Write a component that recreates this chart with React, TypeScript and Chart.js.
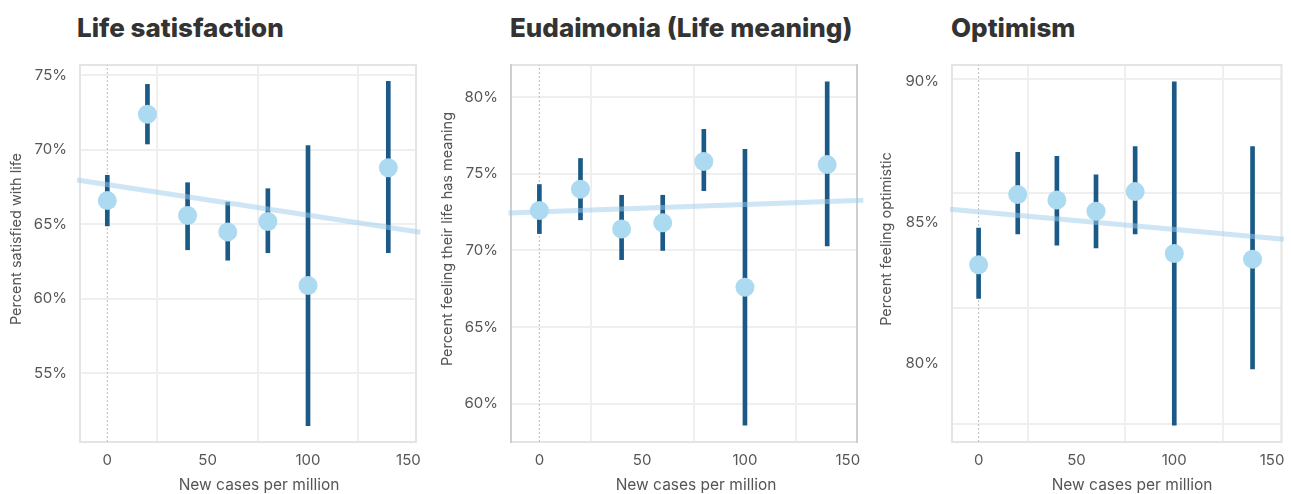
import React, { useEffect, useRef } from "react";
import { Chart, registerables } from "chart.js";

Chart.register(...registerables);

// ---------- data ----------
const xValues = [0, 20, 40, 60, 80, 100, 140];
const xTicks = [0, 50, 100, 150];

const lifeSatMean = [66.6, 72.4, 65.6, 64.5, 65.2, 60.9, 68.8];
const lifeSatLow = [64.9, 70.4, 63.3, 62.6, 63.1, 51.5, 63.1];
const lifeSatHigh = [68.3, 74.4, 67.8, 66.5, 67.4, 70.3, 74.6];
const lifeSatTrendX = [-15, 156];
const lifeSatTrendY = [67.98, 64.48];
const lifeSatTicks = [55, 60, 65, 70, 75];

const eudMean = [72.6, 74.0, 71.4, 71.8, 75.8, 67.6, 75.6];
const eudLow = [71.1, 72.0, 69.4, 70.0, 73.9, 58.6, 70.3];
const eudHigh = [74.3, 76.0, 73.6, 73.6, 77.9, 76.6, 81.0];
const eudTrendX = [-15, 157.6];
const eudTrendY = [72.45, 73.28];
const eudTicks = [60, 65, 70, 75, 80];

const optMean = [83.5, 86.0, 85.8, 85.4, 86.1, 83.9, 83.7];
const optLow = [82.3, 84.6, 84.2, 84.1, 84.6, 77.8, 79.8];
const optHigh = [84.8, 87.5, 87.35, 86.7, 87.7, 90.0, 87.7];
const optTrendX = [-14.6, 156];
const optTrendY = [85.47, 84.41];
const optTicks = [80, 85, 90];
const optGridLines = [77.85, 81.95, 86.05, 90.1];

// ---------- styles ----------
const FONT = "Inter";
const TEXT = "#555555";
const GRID = "#efefef";

type Spec = {
  title: string;
  yTitle: string;
  left: number;
  titleLeft: number;
  width: number;
  yAxisWidth: number;
  rightPad: number;
  xMin: number;
  xMax: number;
  yMin: number;
  yMax: number;
  mean: number[];
  low: number[];
  high: number[];
  trendX: number[];
  trendY: number[];
  yTicks: number[];
  gridLines?: number[];
  sideColor: string;
  yTitleX: number;
  xTitleX: number;
};

const specs: Spec[] = [
  {
    title: "Life satisfaction",
    yTitle: "Percent satisfied with life",
    left: 0, titleLeft: 77, width: 430, yAxisWidth: 80, rightPad: 14,
    xMin: -13.6, xMax: 153.8, yMin: 50.4, yMax: 75.7,
    mean: lifeSatMean, low: lifeSatLow, high: lifeSatHigh,
    trendX: lifeSatTrendX, trendY: lifeSatTrendY, yTicks: lifeSatTicks,
    sideColor: "#e4e4e4", yTitleX: 16, xTitleX: 259,
  },
  {
    title: "Eudaimonia (Life meaning)",
    yTitle: "Percent feeling their life has meaning",
    left: 430, titleLeft: 510, width: 440, yAxisWidth: 81, rightPad: 13,
    xMin: -13.8, xMax: 154.5, yMin: 57.5, yMax: 82.1,
    mean: eudMean, low: eudLow, high: eudHigh,
    trendX: eudTrendX, trendY: eudTrendY, yTicks: eudTicks,
    sideColor: "#cfcfcf", yTitleX: 447, xTitleX: 696,
  },
  {
    title: "Optimism",
    yTitle: "Percent feeling optimistic",
    left: 870, titleLeft: 951, width: 421, yAxisWidth: 82, rightPad: 2,
    xMin: -13.6, xMax: 154.8, yMin: 77.2, yMax: 90.6,
    mean: optMean, low: optLow, high: optHigh,
    trendX: optTrendX, trendY: optTrendY, yTicks: optTicks, gridLines: optGridLines,
    sideColor: "#e4e4e4", yTitleX: 886, xTitleX: 1132,
  },
];

const framePlugin = {
  id: "frame",
  beforeDatasetsDraw(chart: any, _args: any, opts: any) {
    const { left, top, right, bottom } = chart.chartArea;
    const ctx = chart.ctx;
    ctx.save();
    ctx.lineWidth = 2;
    ctx.strokeStyle = "#e4e4e4";
    ctx.beginPath();
    ctx.moveTo(left, top);
    ctx.lineTo(right, top);
    ctx.moveTo(left, bottom);
    ctx.lineTo(right, bottom);
    ctx.stroke();
    ctx.strokeStyle = opts.sideColor || "#e4e4e4";
    ctx.beginPath();
    ctx.moveTo(left, top - 1);
    ctx.lineTo(left, bottom + 1);
    ctx.moveTo(right, top - 1);
    ctx.lineTo(right, bottom + 1);
    ctx.stroke();
    ctx.restore();
  },
};

const zeroPadding = (s: any) => {
  s.paddingTop = 0;
  s.paddingBottom = 0;
  s.paddingLeft = 0;
  s.paddingRight = 0;
};

function Panel({ spec }: { spec: Spec }) {
  const ref = useRef<HTMLCanvasElement>(null);
  useEffect(() => {
    if (!ref.current) return;
    const tickFont = { family: FONT, size: 15 };
    const scales: any = {
      x: {
        type: "linear",
        min: spec.xMin,
        max: spec.xMax,
        offset: false,
        afterBuildTicks: (s: any) => {
          s.ticks = xTicks.map((v) => ({ value: v }));
        },
        afterFit: (s: any) => {
          s.height = 52;
          zeroPadding(s);
        },
        grid: {
          color: (c: any) => (c.tick && c.tick.value === 0 ? "rgba(0,0,0,0)" : GRID),
          lineWidth: 2,
          drawTicks: false,
        },
        border: { display: false },
        ticks: { padding: 9, color: TEXT, font: tickFont, maxRotation: 0, autoSkip: false },
      },
      y: {
        type: "linear",
        min: spec.yMin,
        max: spec.yMax,
        afterBuildTicks: (s: any) => {
          s.ticks = spec.yTicks.map((v) => ({ value: v }));
        },
        afterFit: (s: any) => {
          s.width = spec.yAxisWidth;
          zeroPadding(s);
        },
        grid: {
          display: !spec.gridLines,
          color: GRID,
          lineWidth: 2,
          drawTicks: false,
        },
        border: { display: false },
        ticks: {
          padding: 13,
          color: TEXT,
          font: tickFont,
          autoSkip: false,
          callback: (v: any) => `${v}%`,
        },
      },
    };
    if (spec.gridLines) {
      const gl = spec.gridLines;
      scales.y2 = {
        type: "linear",
        position: "right",
        min: spec.yMin,
        max: spec.yMax,
        afterBuildTicks: (s: any) => {
          s.ticks = gl.map((v) => ({ value: v }));
        },
        afterFit: (s: any) => {
          s.width = 0;
          zeroPadding(s);
        },
        grid: { color: GRID, lineWidth: 2, drawTicks: false },
        border: { display: false },
        ticks: { display: false, padding: 0 },
      };
    }
    const chart = new Chart(ref.current, {
      type: "scatter",
      data: {
        datasets: [
          {
            type: "scatter",
            label: "mean",
            data: xValues.map((x, i) => ({ x, y: spec.mean[i] })),
            pointRadius: 9.5,
            pointHoverRadius: 9.5,
            backgroundColor: "#acdaf0",
            borderWidth: 0,
            order: 0,
          } as any,
          {
            type: "line",
            label: "trend",
            data: spec.trendX.map((x, i) => ({ x, y: spec.trendY[i] })),
            borderColor: "rgba(155,203,235,0.5)",
            borderWidth: 5,
            pointRadius: 0,
            fill: false,
            clip: false,
            order: 1,
          } as any,
          {
            type: "bar",
            label: "ci",
            data: xValues.map((x, i) => ({ x, y: [spec.low[i], spec.high[i]] })),
            backgroundColor: "#1b5a86",
            barThickness: 4,
            grouped: false,
            order: 2,
          } as any,
          {
            type: "line",
            label: "zero",
            data: [
              { x: 0, y: spec.yMin },
              { x: 0, y: spec.yMax },
            ],
            borderColor: "#bdbdbd",
            borderWidth: 1,
            borderDash: [2, 2],
            pointRadius: 0,
            fill: false,
            order: 3,
          } as any,
        ],
      },
      options: {
        animation: false,
        responsive: false,
        events: [],
        layout: { padding: { left: 0, top: 15, right: spec.rightPad, bottom: 0 } },
        plugins: {
          legend: { display: false },
          tooltip: { enabled: false },
          title: { display: false },
          frame: { sideColor: spec.sideColor },
        } as any,
        scales,
      },
      plugins: [framePlugin],
    } as any);
    return () => chart.destroy();
  }, [spec]);

  return (
    <canvas
      ref={ref}
      width={spec.width}
      height={444}
      style={{ position: "absolute", left: spec.left, top: 50, width: spec.width, height: 444 }}
    />
  );
}

export default function App() {
  return (
    <div
      style={{
        position: "fixed",
        left: 0,
        top: 0,
        width: 1291,
        height: 494,
        background: "#ffffff",
        overflow: "hidden",
      }}
    >
      {specs.map((s, i) => (
        <React.Fragment key={i}>
          <Panel spec={s} />
          <div
            style={{
              position: "absolute",
              left: s.titleLeft,
              top: 13,
              fontFamily: FONT,
              fontWeight: 800,
              fontSize: 26,
              lineHeight: "30px",
              color: "#333333",
              whiteSpace: "nowrap",
            }}
          >
            {s.title}
          </div>
          <div
            style={{
              position: "absolute",
              left: s.yTitleX - 200,
              top: 239 - 9,
              width: 400,
              textAlign: "center",
              fontFamily: FONT,
              fontSize: 14.5,
              lineHeight: "18px",
              color: TEXT,
              transform: "rotate(-90deg)",
              whiteSpace: "nowrap",
            }}
          >
            {s.yTitle}
          </div>
          <div
            style={{
              position: "absolute",
              left: s.xTitleX - 150,
              top: 485 - 9,
              width: 300,
              textAlign: "center",
              fontFamily: FONT,
              fontSize: 15.5,
              lineHeight: "18px",
              color: TEXT,
              whiteSpace: "nowrap",
            }}
          >
            New cases per million
          </div>
        </React.Fragment>
      ))}
    </div>
  );
}
